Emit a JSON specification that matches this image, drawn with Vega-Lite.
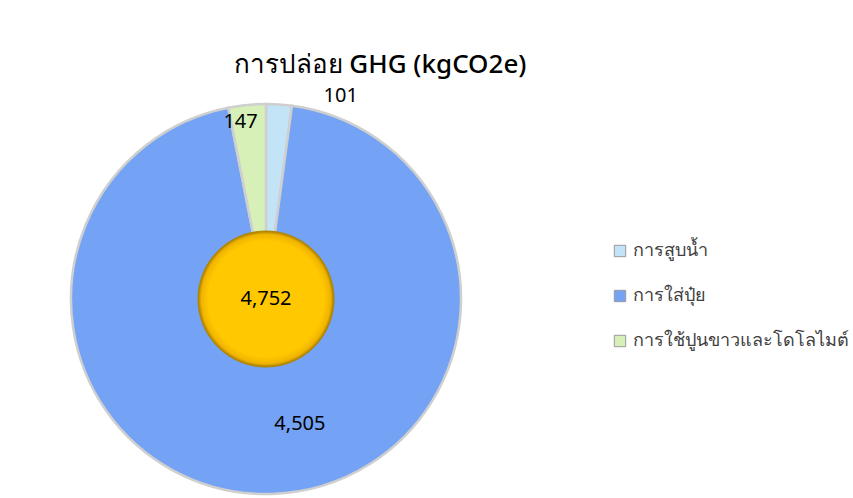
{
  "$schema": "https://vega.github.io/schema/vega-lite/v6.json",
  "width": 532,
  "height": 398,
  "autosize": {"type": "none"},
  "padding": {"left": 0, "top": 100, "right": 321, "bottom": 0},
  "background": "white",
  "title": {
    "text": "การปล่อย GHG (kgCO2e)",
    "font": "Noto Sans",
    "fontSize": 26,
    "fontWeight": 500,
    "color": "#000000",
    "anchor": "middle",
    "dx": 114,
    "dy": 16,
    "offset": 24
  },
  "datasets": {
    "slices": [
      {"cat": "การสูบน้ำ", "value": 101, "order": 1, "label": "101"},
      {"cat": "การใส่ปุ๋ย", "value": 4505, "order": 2, "label": "4,505"},
      {"cat": "การใช้ปูนขาวและโดโลไมต์", "value": 147, "order": 3, "label": "147"}
    ],
    "total": [{"total": 4752, "label": "4,752"}]
  },
  "layer": [
    {
      "data": {"name": "slices"},
      "mark": {"type": "arc", "outerRadius": 195, "stroke": "#cfcfcf", "strokeWidth": 2.5},
      "encoding": {
        "theta": {"field": "value", "type": "quantitative", "stack": true},
        "order": {"field": "order", "type": "quantitative"},
        "color": {
          "field": "cat",
          "type": "nominal",
          "sort": ["การสูบน้ำ", "การใส่ปุ๋ย", "การใช้ปูนขาวและโดโลไมต์"],
          "scale": {
            "domain": ["การสูบน้ำ", "การใส่ปุ๋ย", "การใช้ปูนขาวและโดโลไมต์"],
            "range": ["#c3e3f7", "#74a3f5", "#d6f0b8"]
          },
          "legend": {
            "title": null,
            "orient": "none",
            "legendX": 611,
            "legendY": 142,
            "symbolType": "square",
            "symbolSize": 130,
            "symbolStrokeColor": "#9a9a9a",
            "symbolStrokeWidth": 1,
            "labelFont": "Noto Sans",
            "labelFontSize": 18,
            "labelColor": "#404040",
            "labelLimit": 400,
            "rowPadding": 27,
            "labelOffset": 4
          }
        }
      }
    },
    {
      "data": {"name": "slices"},
      "mark": {"type": "text", "radius": 128, "dx": 30, "dy": -3, "font": "Noto Sans", "fontSize": 20, "color": "#000000"},
      "encoding": {
        "theta": {"field": "value", "type": "quantitative", "stack": true},
        "order": {"field": "order", "type": "quantitative"},
        "text": {"condition": {"test": "datum.order == 2", "field": "label"}, "value": ""}
      }
    },
    {
      "data": {"name": "slices"},
      "mark": {"type": "text", "radius": 180, "dx": -8, "dy": 2, "font": "Noto Sans", "fontSize": 20, "color": "#000000"},
      "encoding": {
        "theta": {"field": "value", "type": "quantitative", "stack": true},
        "order": {"field": "order", "type": "quantitative"},
        "text": {"condition": {"test": "datum.order == 3", "field": "label"}, "value": ""}
      }
    },
    {
      "data": {"name": "slices"},
      "mark": {"type": "text", "radius": 205, "dx": 61, "dy": 2, "font": "Noto Sans", "fontSize": 20, "color": "#000000"},
      "encoding": {
        "theta": {"field": "value", "type": "quantitative", "stack": true},
        "order": {"field": "order", "type": "quantitative"},
        "text": {"condition": {"test": "datum.order == 1", "field": "label"}, "value": ""}
      }
    },
    {
      "data": {"name": "total"},
      "mark": {
        "type": "arc",
        "theta": 0,
        "theta2": 6.2832,
        "outerRadius": 68,
        "fill": {
          "gradient": "radial",
          "x1": 0.5, "y1": 0.5, "r1": 0,
          "x2": 0.5, "y2": 0.5, "r2": 0.5,
          "stops": [
            {"offset": 0, "color": "#ffc800"},
            {"offset": 0.85, "color": "#ffc800"},
            {"offset": 0.95, "color": "#f0b400"},
            {"offset": 1, "color": "#a67c00"}
          ]
        },
        "stroke": "#b08600",
        "strokeWidth": 1
      },
      "encoding": {}
    },
    {
      "data": {"name": "total"},
      "mark": {"type": "text", "font": "Noto Sans", "fontSize": 20, "color": "#000000"},
      "encoding": {"text": {"field": "label", "type": "nominal"}}
    }
  ]
}
